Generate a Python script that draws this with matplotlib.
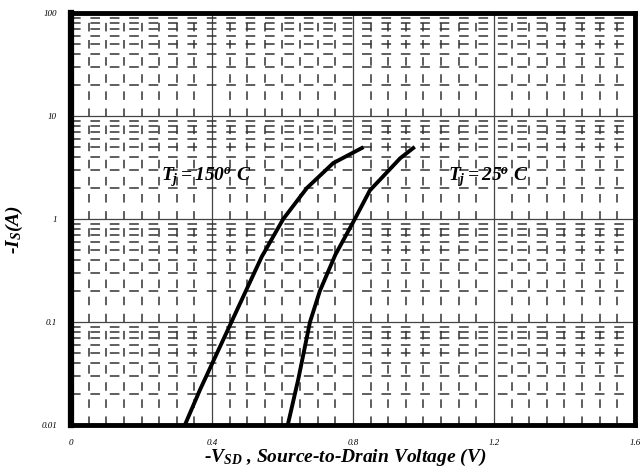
import numpy as np
import matplotlib
matplotlib.use("Agg")
import matplotlib.pyplot as plt

plt.rcParams['font.family'] = ['Liberation Serif', 'DejaVu Serif']
plt.rcParams['mathtext.fontset'] = 'custom'
plt.rcParams['mathtext.it'] = 'Liberation Serif:italic:bold'
plt.rcParams['mathtext.rm'] = 'Liberation Serif:italic:bold'
plt.rcParams['mathtext.bf'] = 'Liberation Serif:italic:bold'

# curves
vsd_150 = [0.323, 0.366, 0.541, 0.602, 0.669, 0.744, 0.825]
is_150 = [0.01, 0.022, 0.43, 1.0, 2.0, 3.5, 4.9]
vsd_25 = [0.615, 0.645, 0.678, 0.706, 0.750, 0.801, 0.848, 0.934, 0.971]
is_25 = [0.01, 0.028, 0.1, 0.2, 0.45, 0.94, 1.9, 3.9, 4.9]

x_ticks = [0, 0.4, 0.8, 1.2, 1.6]
x_ticklabels = ["0", "0.4", "0.8", "1.2", "1.6"]
y_ticks = [0.01, 0.1, 1, 10, 100]
y_ticklabels = ["0.01", "0.1", "1", "10", "100"]

fig = plt.figure(figsize=(6.4, 4.72), dpi=100)
ax = fig.add_axes([0.111, 0.0996, 0.881, 0.8724])
ax.set_yscale('log')
ax.set_xlim(0, 1.6)
ax.set_ylim(0.01, 100)

# minor grid: dashed, major grid: thin solid
for xv in np.arange(0.05, 1.6, 0.05):
    if abs(xv / 0.4 - round(xv / 0.4)) < 1e-6:
        ax.axvline(xv, color='#444444', lw=0.9, zorder=1)
    else:
        ax.axvline(xv, color='#333333', lw=1.1, ls=(0, (5.6, 5.6)), zorder=1)
for dec in [0.01, 0.1, 1, 10]:
    for m in range(2, 10):
        ax.axhline(dec * m, color='#333333', lw=1.1, ls=(0, (6.3, 6.4)), zorder=1)
for yv in [0.1, 1, 10]:
    ax.axhline(yv, color='#444444', lw=0.9, zorder=1)

ax.plot(vsd_150, is_150, color='black', lw=2.8, zorder=3)
ax.plot(vsd_25, is_25, color='black', lw=2.8, zorder=3)

ax.text(0.255, 2.55, r'$T_j = 150^o\ C$', fontsize=14, va='center', ha='left',
        zorder=4)
ax.text(1.07, 2.55, r'$T_j = 25^o\ C$', fontsize=14, va='center', ha='left',
        zorder=4)

ax.set_xticks(x_ticks)
ax.set_xticklabels(x_ticklabels, fontsize=6.5, style='italic')
ax.set_yticks(y_ticks)
ax.set_yticklabels(y_ticklabels, fontsize=6.5, style='italic')
ax.yaxis.set_minor_locator(matplotlib.ticker.NullLocator())
ax.tick_params(length=0, pad=10)

fig.text(14 / 640, 1 - 230 / 472, r'-$I_S(A)$', fontsize=14, rotation=90,
         ha='center', va='center', fontweight='bold', style='italic')
fig.text(345 / 640, 1 - 457 / 472, r'-$V_{SD}$ , Source-to-Drain Voltage (V)',
         fontsize=14, ha='center', va='center', fontweight='bold', style='italic')

for sp in ax.spines.values():
    sp.set_linewidth(3.5)
    sp.set_color('black')
ax.spines['left'].set_linewidth(4.5)

fig.savefig("out.png", dpi=100)
